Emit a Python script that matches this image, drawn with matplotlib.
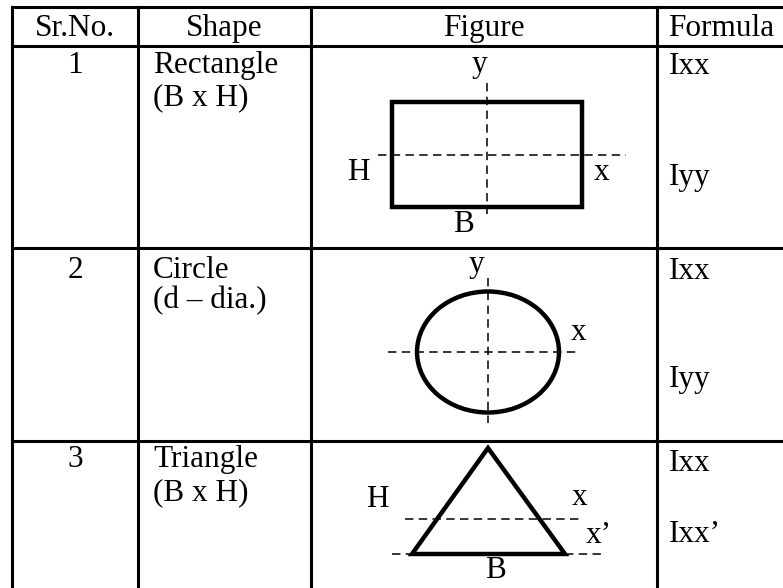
import numpy as np
import matplotlib
matplotlib.use("Agg")
from matplotlib import pyplot as plt
from matplotlib.patches import Rectangle, Ellipse, Polygon

plt.rcParams['font.family'] = ['Liberation Serif', 'DejaVu Serif']

# table grid (pixel coords, y down)
col_edges = [12, 138, 311, 657, 800]
row_edges = [7, 46, 248, 441, 600]

header = ["Sr.No.", "Shape", "Figure", "Formula"]
sr_nos = ["1", "2", "3"]
shape_names = ["Rectangle", "Circle", "Triangle"]
shape_dims = ["(B x H)", "(d \u2013 dia.)", "(B x H)"]
formulas = [["Ixx", "Iyy"], ["Ixx", "Iyy"], ["Ixx", "Ixx\u2019"]]

# baselines of the text in each row
header_base = 36
sr_base = [73, 278, 467]
name_base = [73, 278, 467]
dims_base = [105, 308, 500]
formula_base = [[74, 185], [279, 387], [471, 542]]

# figures
rect_box = [392, 102, 582, 207]          # left, top, right, bottom
circ = [488, 352, 142, 121]              # cx, cy, width, height
tri = [[488, 448], [412, 554], [565, 554]]

fig = plt.figure(figsize=(7.83, 5.88), dpi=100)
ax = fig.add_axes([0, 0, 1, 1])
ax.set_xlim(0, 783)
ax.set_ylim(588, 0)
ax.axis('off')

fs = 22.5
tlw = 2.2
dash = dict(color='black', lw=1.1, linestyle=(0, (5.5, 3.5)))

# grid lines
for x in col_edges[:-1]:
    ax.plot([x, x], [row_edges[0], row_edges[-1]], color='black', lw=tlw,
            solid_capstyle='projecting')
for y in row_edges[:-1]:
    ax.plot([col_edges[0], col_edges[-1]], [y, y], color='black', lw=tlw,
            solid_capstyle='projecting')

# header
for k, h in enumerate(header):
    if k < 3:
        ax.text((col_edges[k] + col_edges[k+1]) / 2, header_base, h, fontsize=fs,
                ha='center', va='baseline')
    else:
        ax.text(col_edges[k] + 11, header_base, h, fontsize=fs, ha='left', va='baseline')

# body
for i in range(3):
    ax.text((col_edges[0] + col_edges[1]) / 2, sr_base[i], sr_nos[i], fontsize=fs,
            ha='center', va='baseline')
    ax.text(col_edges[1] + 15, name_base[i], shape_names[i], fontsize=fs,
            ha='left', va='baseline')
    ax.text(col_edges[1] + 15, dims_base[i], shape_dims[i], fontsize=fs,
            ha='left', va='baseline')
    for f, b in zip(formulas[i], formula_base[i]):
        ax.text(col_edges[3] + 12, b, f, fontsize=fs, ha='left', va='baseline')

# rectangle
l, t, r, b = rect_box
ax.add_patch(Rectangle((l, t), r - l, b - t, fill=False, lw=3.2, ec='black',
                       joinstyle='miter'))
cx = (l + r) / 2
cy = (t + b) / 2
ax.plot([cx, cx], [83, 214], **dash)
ax.plot([378, 626], [cy, cy], **dash)
ax.text(479, 72, "y", fontsize=fs, ha='center', va='baseline')
ax.text(358, 180, "H", fontsize=fs, ha='center', va='baseline')
ax.text(602, 180, "x", fontsize=fs, ha='center', va='baseline')
ax.text(463, 232, "B", fontsize=fs, ha='center', va='baseline')

# circle
ex, ey, ew, eh = circ
ax.add_patch(Ellipse((ex, ey), ew, eh, fill=False, lw=3.2, ec='black'))
ax.plot([ex, ex], [278, 423], **dash)
ax.plot([388, 578], [ey, ey], **dash)
ax.text(476, 272, "y", fontsize=fs, ha='center', va='baseline')
ax.text(579, 340, "x", fontsize=fs, ha='center', va='baseline')

# triangle
tri = np.array(tri)
ax.add_patch(Polygon(tri, closed=True, fill=False, lw=3.2, ec='black',
                     joinstyle='miter'))
base_y = tri[1, 1]
h_tri = base_y - tri[0, 1]
cg_y = base_y - h_tri / 3
ax.plot([405, 580], [cg_y, cg_y], **dash)
ax.plot([392, tri[1, 0]], [base_y, base_y], **dash)
ax.plot([tri[2, 0], 605], [base_y, base_y], **dash)
ax.text(377, 507, "H", fontsize=fs, ha='center', va='baseline')
ax.text(580, 505, "x", fontsize=fs, ha='center', va='baseline')
ax.text(599, 543, "x\u2019", fontsize=fs, ha='center', va='baseline')
ax.text(495, 578, "B", fontsize=fs, ha='center', va='baseline')

fig.savefig('out.png', dpi=100)
